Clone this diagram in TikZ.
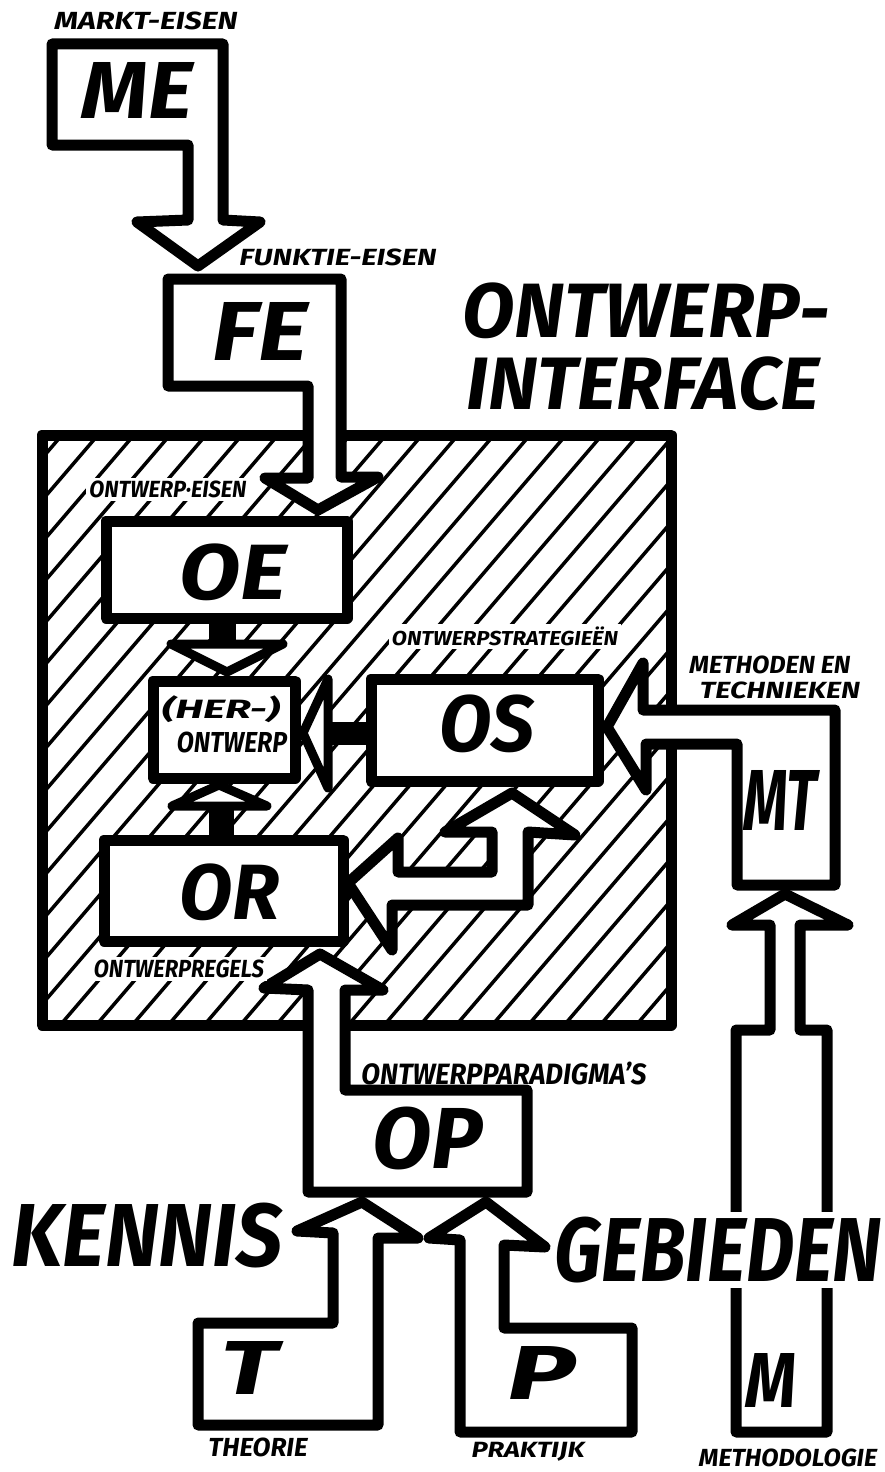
\documentclass[tikz,border=0pt]{standalone}
\usepackage{fontspec}
\setmainfont{Fira Sans}
\usepackage{graphicx}
\newcommand{\handtxt}[3]{\resizebox*{#1pt}{#2pt}{\bfseries\itshape #3}}
\tikzset{
  outl/.style={draw=black, line width=11pt, line join=round, line cap=round},
  shp/.style={outl, fill=white},
  headshp/.style={draw=black, fill=white, line width=9pt, line join=round, line cap=round},
  hatchln/.style={line width=3.5pt, line cap=round},
  stubfill/.style={fill=black},
  txt/.style={inner sep=0pt, text=black},
  lblbg/.style={txt, fill=white, inner sep=3pt},
}
\begin{document}
\begin{tikzpicture}[x=1pt,y=-1pt]
\useasboundingbox (0,0) rectangle (885,1472);
\fill[white] (0,0) rectangle (885,1472);

% ---------- hatched design interface area ----------
\begin{scope}
  \clip (42,435) rectangle (671,1025);
  \foreach \i in {0,...,34}
    \draw[hatchln] ({-520+\i*36},1030) -- ++(600,-700);
\end{scope}
\draw[outl] (42,435) rectangle (671,1025);

% ---------- ME -> FE ----------
\draw[shp] (52,44) -- (223,44) -- (223,220) -- (260,222) -- (198,266)
  -- (137,222) -- (188,220) -- (188,145) -- (52,145) -- cycle;

% ---------- FE -> OE ----------
\draw[shp] (168,279) -- (341,279) -- (341,477) -- (378,477) -- (318,510)
  -- (265,478) -- (308,478) -- (308,386) -- (168,386) -- cycle;

% ---------- OE box ----------
\draw[shp] (106,521) rectangle (347,618);

% OE -> (HER-)ONTWERP
\fill[stubfill] (209,616) rectangle (236,646);
\draw[headshp] (171,644) -- (283,644) -- (227,672) -- cycle;

% ---------- (HER-)ONTWERP box ----------
\draw[shp] (153,681) rectangle (295,778);

% OS -> (HER-)ONTWERP
\fill[stubfill] (326,722) rectangle (373,745);
\draw[headshp] (328,679) -- (328,788) -- (303,733) -- cycle;

% (HER-)ONTWERP -> OR
\fill[stubfill] (209,804) rectangle (234,838);
\draw[headshp] (172,806) -- (267,806) -- (219,785) -- cycle;

% ---------- OS box ----------
\draw[shp] (371,679) rectangle (598,781);

% ---------- MT -> OS ----------
\draw[shp] (607,727) -- (643,663) -- (643,710) -- (835,710) -- (835,885)
  -- (737,885) -- (737,744) -- (646,744) -- (646,790) -- cycle;

% ---------- M -> MT ----------
\draw[shp] (785,894) -- (848,925) -- (800,925) -- (800,1030) -- (827,1030)
  -- (827,1432) -- (736,1432) -- (736,1030) -- (770,1030) -- (770,925)
  -- (732,925) -- cycle;

% ---------- OR box ----------
\draw[shp] (104,840) rectangle (343,941);

% ---------- feedback arrow: to OS and to OR ----------
\draw[shp] (512,793) -- (575,835) -- (528,832) -- (528,905) -- (392,905)
  -- (392,950) -- (348,883) -- (398,838) -- (398,872) -- (492,872)
  -- (492,832) -- (445,832) -- cycle;

% ---------- OP -> OR ----------
\draw[shp] (320,954) -- (383,990) -- (345,990) -- (345,1090) -- (527,1090)
  -- (527,1192) -- (308,1192) -- (308,990) -- (264,988) -- cycle;

% ---------- T -> OP ----------
\draw[shp] (362,1202) -- (418,1238) -- (378,1238) -- (378,1425) -- (198,1425)
  -- (198,1323) -- (333,1323) -- (333,1233) -- (297,1231) -- cycle;

% ---------- P -> OP ----------
\draw[shp] (486,1202) -- (545,1247) -- (504,1245) -- (504,1328) -- (632,1328)
  -- (632,1432) -- (460,1432) -- (460,1240) -- (429,1238) -- cycle;

% ---------- texts ----------
\node[txt] (tMarkt) at (146,21) {\handtxt{183}{18}{MARKT-EISEN}};
\node[txt] (tME) at (137,90) {\handtxt{111}{56}{ME}};
\node[txt] (tFunktie) at (338,257) {\handtxt{197}{17}{FUNKTIE-EISEN}};
\node[txt] (tFE) at (260,331) {\handtxt{95}{58}{FE}};
\node[txt] (tOntw1) at (646,311) {\handtxt{367}{56}{ONTWERP-}};
\node[txt] (tOntw2) at (643,384) {\handtxt{353}{54}{INTERFACE}};
\node[lblbg] (tOntEisen) at (168,489) {\handtxt{157}{17}{ONTWERP·EISEN}};
\node[txt] (tOE) at (233,572) {\handtxt{107}{57}{OE}};
\node[txt] (tHer) at (221,709) {\handtxt{118}{27}{(HER-)}};
\node[txt] (tHerOnt) at (232,742) {\handtxt{110}{21}{ONTWERP}};
\node[lblbg] (tStrat) at (505,636) {\handtxt{226}{19}{ONTWERPSTRATEGIEËN}};
\node[txt] (tOS) at (487,724) {\handtxt{95}{58}{OS}};
\node[txt] (tMeth) at (770,665) {\handtxt{161}{18}{METHODEN EN}};
\node[txt] (tTech) at (780,690) {\handtxt{160}{17}{TECHNIEKEN}};
\node[txt] (tMT) at (780,800) {\handtxt{74}{60}{MT}};
\node[txt] (tOR) at (230,892) {\handtxt{100}{57}{OR}};
\node[lblbg] (tRegels) at (179,969) {\handtxt{170}{18}{ONTWERPREGELS}};
\node[txt] (tPara) at (504,1073) {\handtxt{285}{23}{ONTWERPPARADIGMA'S}};
\node[txt] (tOP) at (428,1138) {\handtxt{110}{63}{OP}};
\node[txt] (tKennis) at (147,1235) {\handtxt{271}{65}{KENNIS}};
\node[txt, fill=white, inner xsep=0pt, inner ysep=5pt] (tGebied) at (718,1250) {\handtxt{327}{66}{GEBIEDEN}};
\node[txt] (tT) at (249,1368) {\handtxt{57}{53}{T}};
\node[txt] (tP) at (542,1373) {\handtxt{68}{53}{P}};
\node[txt] (tM) at (771,1380) {\handtxt{51}{54}{M}};
\node[txt] (tTheorie) at (258,1447) {\handtxt{99}{19}{THEORIE}};
\node[txt] (tPraktijk) at (528,1452) {\handtxt{113}{19}{PRAKTIJK}};
\node[txt] (tMethod) at (788,1458) {\handtxt{178}{18}{METHODOLOGIE}};
\end{tikzpicture}
\end{document}
